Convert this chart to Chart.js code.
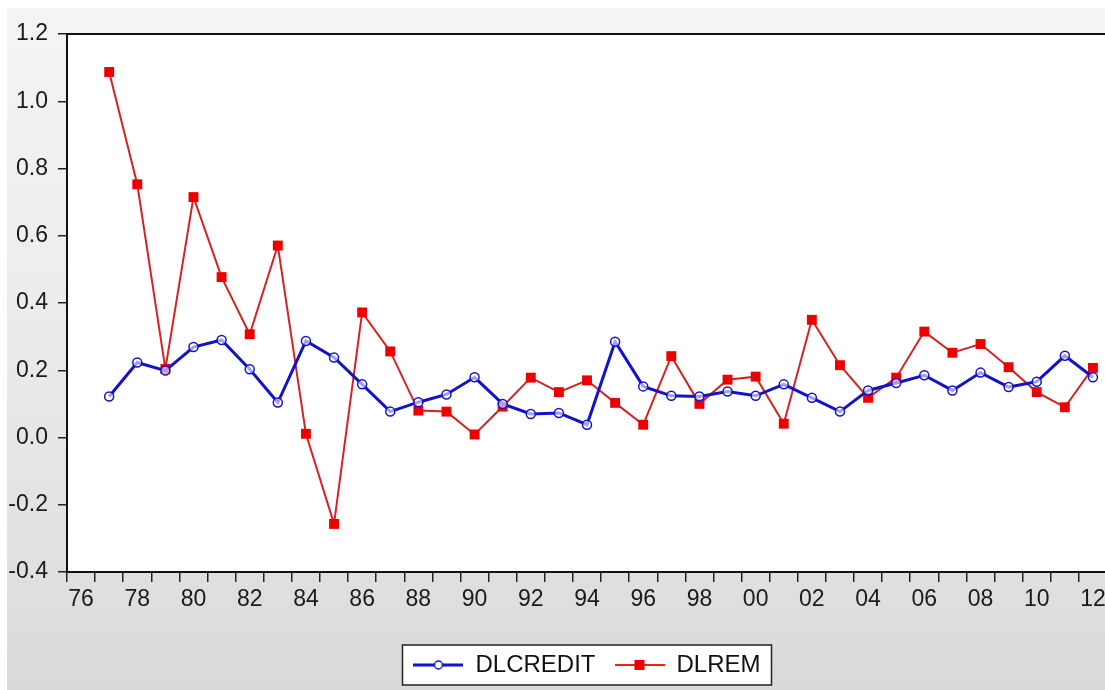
<!DOCTYPE html>
<html>
<head>
<meta charset="utf-8">
<script src="https://cdn.jsdelivr.net/npm/chart.js@4"></script>
<style>
  html, body { margin: 0; padding: 0; background: #fff; overflow: hidden; width: 1105px; height: 690px; }
  #grafico {
    position: absolute; left: 7px; top: 8px;
    background: linear-gradient(to bottom, #f4f4f4 0%, #ececec 45%, #dadada 100%);
  }
</style>
</head>
<body>
<canvas id="grafico" width="1110" height="682"></canvas>
<script>
// anos 1976..2012 (rótulos de dois dígitos)
const anos = ["76","77","78","79","80","81","82","83","84","85","86","87","88","89","90","91","92","93","94",
  "95","96","97","98","99","00","01","02","03","04","05","06","07","08","09","10","11","12"];

const dlcredit = [null, 0.122, 0.223, 0.199, 0.269, 0.290, 0.203, 0.104, 0.287, 0.238, 0.158, 0.077,
  0.105, 0.128, 0.179, 0.100, 0.070, 0.073, 0.038, 0.285, 0.152, 0.124, 0.122, 0.137, 0.124,
  0.158, 0.118, 0.077, 0.140, 0.162, 0.185, 0.140, 0.193, 0.150, 0.166, 0.243, 0.179];

const dlrem = [null, 1.087, 0.753, 0.204, 0.715, 0.477, 0.307, 0.571, 0.011, -0.257, 0.372, 0.256,
  0.080, 0.077, 0.009, 0.092, 0.178, 0.135, 0.170, 0.103, 0.038, 0.242, 0.100, 0.172, 0.181,
  0.041, 0.350, 0.215, 0.118, 0.178, 0.315, 0.252, 0.278, 0.209, 0.135, 0.090, 0.207];

const ticksY = [-0.4, -0.2, 0.0, 0.2, 0.4, 0.6, 0.8, 1.0, 1.2];

const AZUL = "#1212c8";
const VERMELHO_LINHA = "#d42323";
const VERMELHO = "#ee0000";
const fonte = "'Liberation Sans', Arial, sans-serif";

// ícones da legenda: linha com marcador no meio
function iconeLegenda(cor, larguraLinha, desenhaMarcador) {
  const c = document.createElement("canvas");
  c.width = 50; c.height = 14;
  const ctx = c.getContext("2d");
  ctx.strokeStyle = cor;
  ctx.lineWidth = larguraLinha;
  ctx.beginPath();
  ctx.moveTo(0, 7); ctx.lineTo(50, 7);
  ctx.stroke();
  desenhaMarcador(ctx);
  return c;
}

const iconeCredit = iconeLegenda(AZUL, 3, ctx => {
  ctx.beginPath();
  ctx.arc(25, 7, 4, 0, Math.PI * 2);
  ctx.fillStyle = "#fff";
  ctx.fill();
  ctx.lineWidth = 1.5;
  ctx.stroke();
});
const iconeRem = iconeLegenda("#ff1a1a", 2, ctx => {
  ctx.fillStyle = VERMELHO;
  ctx.fillRect(20, 2, 10, 10);
});

const fundoPlugin = {
  id: "fundo",
  beforeDraw(chart) {
    const { ctx, chartArea } = chart;
    ctx.save();
    ctx.fillStyle = "#fff";
    ctx.fillRect(chartArea.left, chartArea.top, chartArea.right - chartArea.left, chartArea.bottom - chartArea.top);

    // caixa da legenda
    const boxes = chart.legend.legendHitBoxes;
    if (boxes && boxes.length) {
      const primeiro = boxes[0];
      const ultimo = boxes[boxes.length - 1];
      const x1 = primeiro.left - 11;
      const x2 = ultimo.left + ultimo.width + 11;
      const y1 = primeiro.top - 8;
      const y2 = primeiro.top + primeiro.height + 8;
      ctx.fillStyle = "#fff";
      ctx.fillRect(x1, y1, x2 - x1, y2 - y1);
      ctx.strokeStyle = "#222";
      ctx.lineWidth = 1.5;
      ctx.strokeRect(x1, y1, x2 - x1, y2 - y1);
    }
    ctx.restore();
  },
  afterDraw(chart) {
    const { ctx, chartArea } = chart;
    ctx.save();
    ctx.strokeStyle = "#111";
    ctx.lineWidth = 2;
    ctx.beginPath();
    ctx.moveTo(chartArea.left, chartArea.top);
    ctx.lineTo(chartArea.right, chartArea.top);
    ctx.stroke();
    ctx.restore();
  }
};

new Chart(document.getElementById("grafico"), {
  type: "line",
  data: {
    labels: anos,
    datasets: [
      {
        label: "DLCREDIT",
        data: dlcredit,
        borderColor: AZUL,
        borderWidth: 3,
        pointStyle: "circle",
        pointRadius: 4.5,
        pointBorderWidth: 1.5,
        pointBorderColor: AZUL,
        pointBackgroundColor: "rgba(255,255,255,0.6)",
        tension: 0
      },
      {
        label: "DLREM",
        data: dlrem,
        borderColor: VERMELHO_LINHA,
        borderWidth: 2,
        pointStyle: "rect",
        pointRadius: 7,
        pointBorderWidth: 0,
        pointBackgroundColor: VERMELHO,
        pointBorderColor: VERMELHO,
        tension: 0
      }
    ]
  },
  options: {
    responsive: false,
    animation: false,
    devicePixelRatio: 1,
    layout: { padding: { top: 26, right: 10, bottom: 3, left: 0 } },
    plugins: {
      tooltip: { enabled: false },
      legend: {
        position: "bottom",
        fullSize: false,
        labels: {
          usePointStyle: true,
          pointStyleWidth: 50,
          padding: 19,
          color: "#111",
          font: { family: fonte, size: 24 },
          generateLabels: chart => chart.data.datasets.map((ds, i) => ({
            text: ds.label,
            pointStyle: i === 0 ? iconeCredit : iconeRem,
            datasetIndex: i,
            hidden: false,
            lineWidth: 0,
            fillStyle: "transparent",
            strokeStyle: "transparent",
            fontColor: "#111"
          }))
        }
      }
    },
    scales: {
      x: {
        type: "category",
        offset: true,
        afterFit: scale => { scale.height = 62; },
        border: { display: true, color: "#111", width: 2 },
        grid: {
          offset: true,
          drawOnChartArea: false,
          drawTicks: true,
          tickLength: 10,
          tickColor: "#222",
          lineWidth: 1.5
        },
        ticks: {
          autoSkip: false,
          maxRotation: 0,
          padding: 4,
          color: "#1a1a1a",
          font: { family: fonte, size: 23 },
          callback: (v, i) => (i % 2 === 0 ? anos[i] : "")
        }
      },
      y: {
        min: ticksY[0],
        max: ticksY[ticksY.length - 1],
        afterFit: scale => { scale.width = 60; },
        afterBuildTicks: scale => { scale.ticks = ticksY.map(v => ({ value: v })); },
        border: { display: true, color: "#111", width: 2 },
        grid: {
          drawOnChartArea: false,
          drawTicks: true,
          tickLength: 9,
          tickColor: "#222",
          lineWidth: 1.5
        },
        ticks: {
          padding: 10,
          color: "#1a1a1a",
          font: { family: fonte, size: 23 },
          callback: v => v.toFixed(1)
        }
      }
    }
  },
  plugins: [fundoPlugin]
});
</script>
</body>
</html>
